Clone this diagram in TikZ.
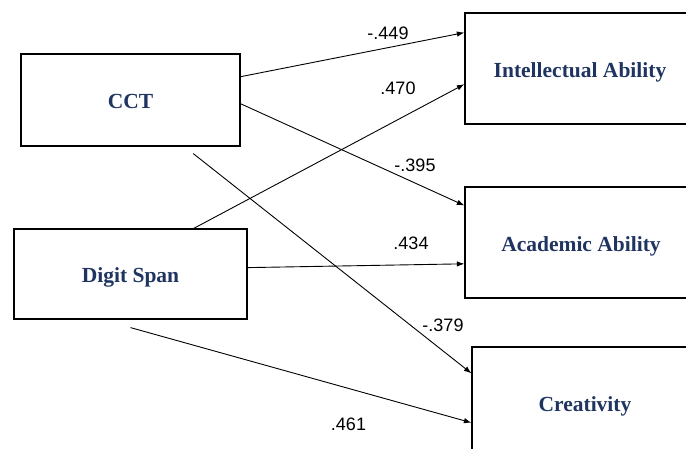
\documentclass[tikz,border=0pt]{standalone}
\usepackage{fontspec}
\setmainfont{Liberation Serif}
\newfontfamily\numfont{Liberation Sans}
\usetikzlibrary{calc, positioning}
\usetikzlibrary{arrows.meta}
\definecolor{boxtext}{RGB}{31,52,96}
\tikzset{
  varbox/.style={draw, line width=1.2pt, inner sep=0pt, text=boxtext,
    text height=18pt, text depth=0pt,
    font=\fontsize{21.5}{26}\selectfont\bfseries},
  link/.style={-{Latex[length=7.5pt,width=5.5pt]}, line width=0.9pt},
  coef/.style={font=\numfont\fontsize{18}{22}\selectfont}
}

\begin{document}
\begin{tikzpicture}[x=1pt,y=-1pt]
\useasboundingbox (0,0) rectangle (686,449);

% predictors
\node[varbox, minimum width=219pt, minimum height=92pt] (cct) at (130.5,100) {CCT};
\node[varbox, minimum width=233pt, minimum height=90pt] (ds) at (130.5,274) {Digit Span};

% outcomes (cut off at the right edge)
\node[varbox, minimum width=230pt, minimum height=111pt] (intel) at (580,68.5) {Intellectual Ability};
\node[varbox, minimum width=232pt, minimum height=111pt] (acad) at (581,242.5) {Academic Ability};
\node[varbox, minimum width=226pt, minimum height=111pt] (crea) at (585,402.5) {Creativity};

\coordinate (cctfoot) at ($(cct.south west)!0.785!(cct.south east)+(0,7)$);
\coordinate (dsfoot) at ($(ds.south)+(0,8)$);

\draw[link] ($(cct.north east)!0.25!(cct.south east)$) -- ($(intel.north west)!0.18!(intel.south west)$);
\draw[link] ($(ds.north west)!0.77!(ds.north east)$) -- ($(intel.north west)!0.64!(intel.south west)$);
\draw[link] ($(cct.north east)!0.54!(cct.south east)$) -- ($(acad.north west)!0.17!(acad.south west)$);
\draw[link] ($(ds.north east)!0.43!(ds.south east)$) -- ($(acad.north west)!0.69!(acad.south west)$);
\draw[link] (cctfoot) -- ($(crea.north west)!0.24!(crea.south west)$);
\draw[link] (dsfoot) -- ($(crea.north west)!0.68!(crea.south west)$);

\node[coef] (b1) at (388,33) {-.449};
\node[coef] (b2) at (398,88.5) {.470};
\node[coef] (b3) at (415,165) {-.395};
\node[coef] (b4) at (411,243) {.434};
\node[coef] (b5) at (443,325) {-.379};
\node[coef] (b6) at (348.5,424) {.461};
\end{tikzpicture}
\end{document}
